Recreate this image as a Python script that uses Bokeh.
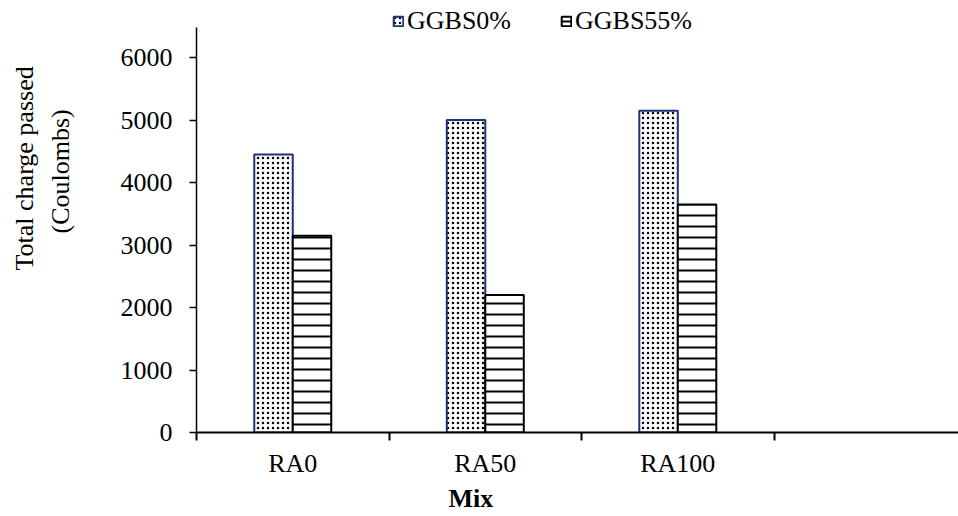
from bokeh.plotting import figure
from bokeh.models import FixedTicker, Legend, LegendItem, ColumnDataSource, Range1d, Title
from bokeh.embed import file_html
from bokeh.resources import INLINE

# ---- data ----
mixes = ["RA0", "RA50", "RA100"]
ggbs0 = [4450, 5000, 5150]
ggbs55 = [3150, 2200, 3650]
series_names = ["GGBS0%", "GGBS55%"]
y_ticks = [0, 1000, 2000, 3000, 4000, 5000, 6000]
y_axis_max = 6480
y_title_lines = ["(Coulombs)", "Total charge passed"]
x_title = "Mix"

FONT = "Liberation Serif"
centers = [i + 0.5 for i in range(len(mixes))]
bar_w = 0.2
src0 = ColumnDataSource(dict(x=[c - bar_w / 2 for c in centers], top=ggbs0))
src55 = ColumnDataSource(dict(x=[c + bar_w / 2 for c in centers], top=ggbs55))

p = figure(width=958, height=516, output_backend="svg", toolbar_location=None,
           x_range=Range1d(0, 3.958), y_range=Range1d(0, 6832),
           min_border_left=196, min_border_right=0, min_border_top=5, min_border_bottom=84)
p.outline_line_color = None
p.grid.grid_line_color = None
p.background_fill_color = "white"

r0 = p.vbar(x="x", top="top", width=bar_w, source=src0,
            fill_color="white", line_color="#1f3170", line_width=2,
            hatch_pattern="dot", hatch_color="black", hatch_scale=5, hatch_weight=1.5)
r55 = p.vbar(x="x", top="top", width=bar_w, source=src55,
             fill_color="white", line_color="black", line_width=2,
             hatch_pattern="horizontal_line", hatch_color="black", hatch_scale=11, hatch_weight=2)

# x axis
xa = p.xaxis[0]
xa.ticker = FixedTicker(ticks=centers, minor_ticks=list(range(len(mixes) + 1)))
xa.major_label_overrides = {c: m for c, m in zip(centers, mixes)}
xa.major_tick_out = 0
xa.major_tick_in = 0
xa.minor_tick_out = 8
xa.minor_tick_in = 0
xa.minor_tick_line_color = "black"
xa.minor_tick_line_width = 2
xa.axis_line_width = 2
xa.axis_line_color = "black"
xa.major_label_standoff = 8
xa.major_label_text_font = FONT
xa.major_label_text_font_size = "26px"
xa.major_label_text_color = "black"

# y axis
ya = p.yaxis[0]
ya.ticker = FixedTicker(ticks=y_ticks, minor_ticks=[])
ya.bounds = (0, y_axis_max)
ya.major_tick_out = 7
ya.major_tick_in = 0
ya.major_tick_line_width = 1.5
ya.axis_line_width = 1.5
ya.axis_line_color = "black"
ya.major_label_standoff = 17
ya.major_label_text_font = FONT
ya.major_label_text_font_size = "26px"
ya.major_label_text_color = "black"

# axis titles (as titles so they can be offset like the reference)
p.add_layout(Title(text=y_title_lines[0], align="left", offset=199, standoff=86,
                   text_font=FONT, text_font_size="26px", text_font_style="normal",
                   text_color="black"), "left")
p.add_layout(Title(text=y_title_lines[1], align="left", offset=162, standoff=-76,
                   text_font=FONT, text_font_size="26px", text_font_style="normal",
                   text_color="black"), "left")
p.add_layout(Title(text=x_title, align="left", offset=252, standoff=3,
                   text_font=FONT, text_font_size="26px", text_font_style="bold",
                   text_color="black"), "below")

legend = Legend(items=[LegendItem(label=series_names[0], renderers=[r0]),
                       LegendItem(label=series_names[1], renderers=[r55])],
                orientation="horizontal", location=(196, 396),
                label_text_font=FONT, label_text_font_size="26px", label_text_color="black",
                glyph_width=12, glyph_height=12, spacing=49, padding=0, margin=0,
                label_standoff=3, border_line_color=None, background_fill_alpha=0)
p.add_layout(legend, "center")

open("out.html", "w").write(file_html(p, INLINE))
